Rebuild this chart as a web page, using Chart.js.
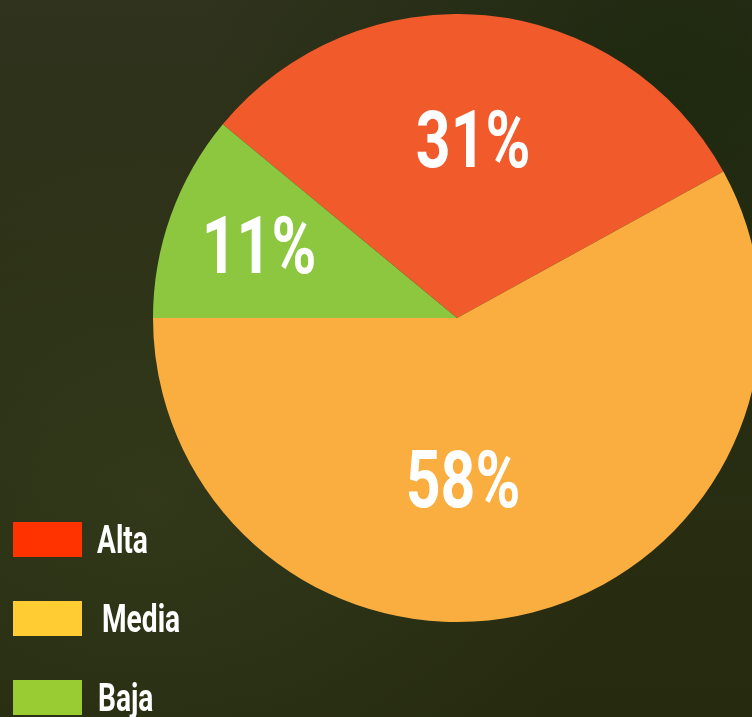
<!DOCTYPE html>
<html>
<head>
<meta charset="utf-8">
<script src="https://cdn.jsdelivr.net/npm/chart.js@4"></script>
<style>
    html, body {
        margin: 0;
        padding: 0;
        width: 752px;
        height: 717px;
        overflow: hidden;
    }
    body {
        position: relative;
        background:
            radial-gradient(ellipse at 20% 70%, rgba(70, 80, 40, 0.3), rgba(0, 0, 0, 0) 55%),
            radial-gradient(ellipse at 90% 10%, rgba(10, 30, 0, 0.45), rgba(0, 0, 0, 0) 50%),
            linear-gradient(180deg, #30331d 0%, #2a2f14 50%, #262b10 100%);
        font-family: Roboto, 'DejaVu Sans Condensed', sans-serif;
    }
    .pie-wrap {
        position: absolute;
        left: 153px;
        top: 14px;
        width: 608px;
        height: 608px;
    }
    .legend {
        position: absolute;
        left: 13px;
        top: 522px;
    }
    .legend-item {
        display: flex;
        align-items: center;
        height: 35px;
        margin-bottom: 44px;
    }
    .legend-item .box {
        width: 69px;
        height: 35px;
        flex: none;
    }
    .legend-item span {
        display: inline-block;
        color: #fff;
        font-weight: bold;
        font-size: 38px;
        transform: scaleX(0.74);
        transform-origin: left center;
        white-space: nowrap;
    }
</style>
</head>
<body>
<div class="pie-wrap"><canvas id="priority-pie-chart" width="608" height="608"></canvas></div>
<div class="legend"></div>

<script>
const categories = ['Alta', 'Media', 'Baja']
const shares = [31, 58, 11]
const sliceColors = ['#f15a2b', '#fbae40', '#8dc63f']
const legendColors = ['#ff3300', '#ffcc33', '#99cc33']

// where each percentage sits, as a fraction of the radius from the centre
const labelOffsets = [[0.053, -0.572], [0.02, 0.546], [-0.651, -0.224]]
const legendIndent = [0, 5, 1]

const percentLabels = {
    id: 'percentLabels',
    afterDatasetsDraw(chart) {
        const ctx = chart.ctx
        const total = shares.reduce((sum, v) => sum + v, 0)
        chart.getDatasetMeta(0).data.forEach((arc, i) => {
            const { x, y, outerRadius } = arc.getProps(['x', 'y', 'outerRadius'], true)
            const px = x + labelOffsets[i][0] * outerRadius
            const py = y + labelOffsets[i][1] * outerRadius
            ctx.save()
            ctx.translate(px, py + 3)
            ctx.scale(0.76, 1)
            ctx.fillStyle = '#ffffff'
            ctx.font = "bold 80px Roboto, 'DejaVu Sans Condensed', sans-serif"
            ctx.textAlign = 'center'
            ctx.textBaseline = 'middle'
            ctx.fillText(`${Math.round(shares[i] * 100 / total)}%`, 0, 0)
            ctx.restore()
        })
    }
}

const priorityPieChart = new Chart(document.querySelector('#priority-pie-chart'), {
    type: 'pie',
    data: {
        labels: categories,
        datasets: [
        {
            data: shares,
            backgroundColor: sliceColors,
            borderWidth: 0
        }]
    },
    options: {
        responsive: false,
        animation: false,
        rotation: -50.4,
        layout: {
            padding: 0
        },
        plugins: {
            legend: {
                display: false
            },
            tooltip: {
                enabled: false
            }
        }
    },
    plugins: [percentLabels]
})

const legend = document.querySelector('.legend')
categories.forEach((name, i) => {
    const item = document.createElement('div')
    item.className = 'legend-item'
    item.innerHTML = `<div class="box" style="background:${legendColors[i]}"></div><span style="margin-left:${15 + legendIndent[i]}px">${name}</span>`
    legend.appendChild(item)
})
</script>
</body>
</html>
